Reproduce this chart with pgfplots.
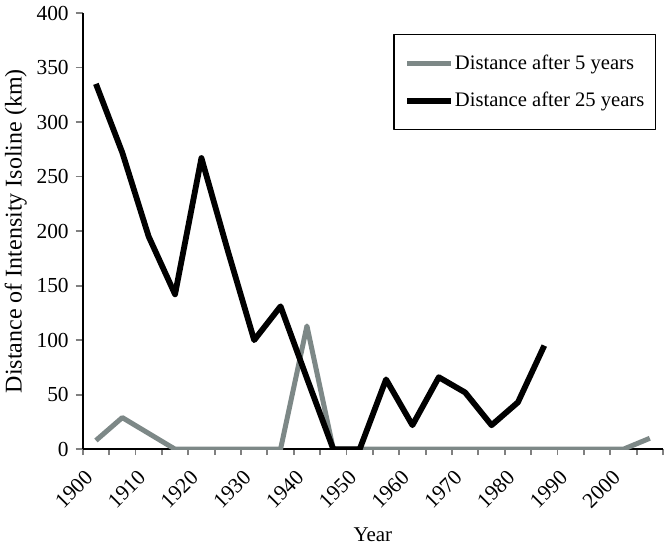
\documentclass[border=0pt]{standalone}
\usepackage{fontspec}
\setmainfont{Liberation Serif}
\usepackage{pgfplots}
\pgfplotsset{compat=1.18}
\definecolor{fivegray}{RGB}{125,136,135}

\begin{document}
\begin{tikzpicture}
\path[use as bounding box] (-41.35pt,-50pt) rectangle (293pt,224.5pt);
\begin{axis}[
  at={(0,0)},anchor=south west,
  scale only axis,width=290pt,height=218pt,
  axis lines*=left,
  axis line style={line width=1pt},
  xmin=1897.5,xmax=2007.5,ymin=0,ymax=400,
  xtick={1900,1910,...,2000},
  major x tick style={draw=none},
  minor xtick={1897.5,1902.5,...,2007.5},
  minor x tick style={line width=0.9pt},
  minor tick length=3pt,
  ytick={0,50,...,400},
  major y tick style={line width=0.9pt},
  major tick length=3.5pt,
  tick align=outside,
  xticklabel style={yshift=-6.5pt,xshift=-1pt,rotate=45,anchor=east,font=\fontsize{10.7}{12}\selectfont},
  yticklabel style={font=\fontsize{10.7}{12}\selectfont},
  /pgf/number format/assume math mode=true,
  /pgf/number format/1000 sep={},
  xlabel={Year},
  xlabel style={font=\fontsize{10.5}{12}\selectfont,yshift=-1pt},
  ylabel={Distance of Intensity Isoline (km)},
  ylabel style={font=\fontsize{12}{14}\selectfont,yshift=-2pt},
  legend style={at={(0.988,0.952)},anchor=north east,draw=black,line width=0.7pt,
    font=\fontsize{10.3}{12}\selectfont,inner xsep=5pt,inner ysep=8pt,row sep=6pt,
    nodes={inner xsep=0.5pt}},
  legend cell align=left,
  legend image code/.code={\draw[#1] (0pt,0pt) -- (22pt,0pt);},
  line join=round,
]
\addplot[fivegray,line width=2.5pt] coordinates {
  (1900,8) (1905,29) (1910,14.5) (1915,0) (1920,0) (1925,0) (1930,0) (1935,0)
  (1940,113) (1945,0) (1950,0) (1955,0) (1960,0) (1965,0) (1970,0) (1975,0)
  (1980,0) (1985,0) (1990,0) (1995,0) (2000,0) (2005,10)};
\addlegendentry{Distance after 5 years}
\addplot[black,line width=2.9pt] coordinates {
  (1900,335) (1905,272) (1910,195) (1915,142) (1920,267) (1925,182) (1930,100)
  (1935,131) (1940,65) (1945,0) (1950,0) (1955,64) (1960,22) (1965,66)
  (1970,52) (1975,22) (1980,43) (1985,95)};
\addlegendentry{Distance after 25 years}
\end{axis}
\end{tikzpicture}
\end{document}
